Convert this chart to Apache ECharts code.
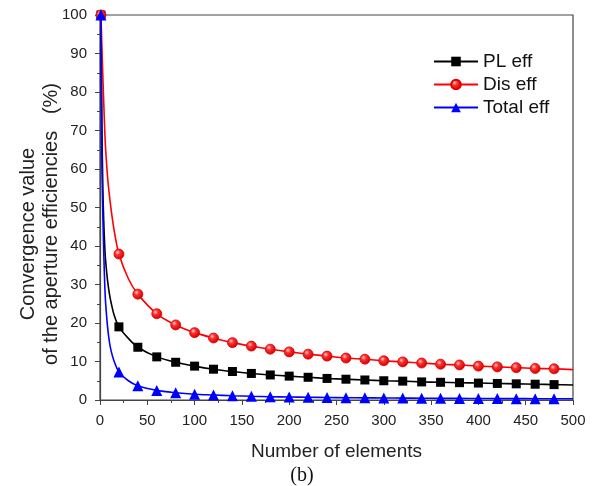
<!DOCTYPE html>
<html>
<head>
<meta charset="utf-8">
<script src="https://cdn.jsdelivr.net/npm/echarts@6/dist/echarts.min.js"></script>
<style>
  html, body { margin: 0; padding: 0; background: #fff; }
  #chart { width: 598px; height: 486px; }
</style>
</head>
<body>
<div id="chart"></div>
<script>
// Number of elements at which the efficiencies were sampled
const elementCounts = [1, 2, 3, 4, 5, 6, 8, 10, 12, 15, 20, 30, 40, 60, 80, 100, 120, 140, 160, 180, 200,
  220, 240, 260, 280, 300, 320, 340, 360, 380, 400, 420, 440, 460, 480, 500];

// Convergence value of each efficiency (%)
const plEff = [100, 72, 55, 46, 40, 36, 31, 27.5, 25, 22, 19.0, 16.0, 13.7, 11.2, 9.8, 8.8, 8.0, 7.4, 6.9, 6.5, 6.2,
  5.9, 5.6, 5.4, 5.2, 5.0, 4.9, 4.7, 4.6, 4.5, 4.4, 4.3, 4.2, 4.1, 4.0, 3.9];
const disEff = [100, 92, 84, 77, 70, 65, 58, 53, 49, 44, 37.9, 31.5, 27.5, 22.4, 19.5, 17.5, 16.1, 14.9, 14.0, 13.2, 12.5,
  11.9, 11.4, 10.9, 10.6, 10.2, 9.9, 9.6, 9.3, 9.1, 8.8, 8.6, 8.4, 8.2, 8.1, 7.9];
const totalEff = [100, 62, 48, 38, 30, 25, 19, 15, 12.5, 10, 7.3, 5.0, 3.7, 2.5, 1.9, 1.5, 1.3, 1.1, 0.97, 0.86, 0.78,
  0.71, 0.65, 0.6, 0.56, 0.52, 0.49, 0.46, 0.43, 0.41, 0.39, 0.37, 0.35, 0.34, 0.32, 0.31];

// Element counts that carry a marker
const markedCounts = [1, 20, 40, 60, 80, 100, 120, 140, 160, 180, 200, 220, 240, 260, 280,
  300, 320, 340, 360, 380, 400, 420, 440, 460, 480];

const seriesNames = ['PL eff', 'Dis eff', 'Total eff'];
const xTicks = { min: 0, max: 500, interval: 50 };
const yTicks = { min: 0, max: 100, interval: 10 };

function buildData(values) {
  return elementCounts.map((n, i) => {
    const item = { value: [n, values[i]] };
    if (markedCounts.indexOf(n) < 0) item.symbol = 'none';
    return item;
  });
}

const FONT = '"Liberation Sans", Arial, sans-serif';
const chart = echarts.init(document.getElementById('chart'), null, { renderer: 'canvas' });

const redBall = new echarts.graphic.RadialGradient(0.38, 0.35, 0.65, [
  { offset: 0, color: '#ffd0d0' },
  { offset: 0.35, color: '#ff3030' },
  { offset: 1, color: '#d00000' }
]);

chart.setOption({
  animation: false,
  backgroundColor: '#ffffff',
  grid: {
    left: 100, right: 25, top: 15, bottom: 86,
    show: true, borderColor: '#444', borderWidth: 1.2, backgroundColor: 'transparent'
  },
  legend: {
    orient: 'vertical',
    left: 428, top: 47,
    itemWidth: 44, itemHeight: 12, itemGap: 4,
    textStyle: { fontFamily: FONT, fontSize: 19, color: '#111' },
    data: seriesNames
  },
  xAxis: {
    type: 'value',
    min: xTicks.min, max: xTicks.max, interval: xTicks.interval,
    name: 'Number of elements',
    nameLocation: 'middle', nameGap: 42,
    nameTextStyle: { fontFamily: FONT, fontSize: 19, color: '#222' },
    axisLine: { show: true, lineStyle: { color: '#444', width: 1.2 } },
    axisTick: { show: true, inside: false, length: 5, lineStyle: { color: '#444' } },
    minorTick: { show: true, splitNumber: 2, length: 3, lineStyle: { color: '#444' } },
    axisLabel: { fontFamily: FONT, fontSize: 15, color: '#222', margin: 13 },
    splitLine: { show: false }
  },
  yAxis: {
    type: 'value',
    min: yTicks.min, max: yTicks.max, interval: yTicks.interval,
    axisLine: { show: true, lineStyle: { color: '#444', width: 1.2 } },
    axisTick: { show: true, inside: false, length: 5, lineStyle: { color: '#444' } },
    minorTick: { show: true, splitNumber: 2, length: 3, lineStyle: { color: '#444' } },
    axisLabel: { fontFamily: FONT, fontSize: 15, color: '#222', margin: 13 },
    splitLine: { show: false }
  },
  graphic: [
    {
      type: 'text', x: 28, y: 234, rotation: Math.PI / 2,
      style: { text: 'Convergence value', fontFamily: FONT, fontSize: 20, fill: '#222',
        align: 'center', verticalAlign: 'middle' }
    },
    {
      type: 'text', x: 51, y: 224, rotation: Math.PI / 2,
      style: { text: 'of the aperture efficiencies   (%)', fontFamily: FONT, fontSize: 20, fill: '#222',
        align: 'center', verticalAlign: 'middle' }
    },
    {
      type: 'text', x: 302, y: 476,
      style: { text: '(b)', fontFamily: '"Liberation Serif", "Times New Roman", serif', fontSize: 20, fill: '#111',
        align: 'center', verticalAlign: 'middle' }
    }
  ],
  series: [
    {
      name: seriesNames[0], type: 'line', smooth: 0.3,
      data: buildData(plEff),
      symbol: 'rect', symbolSize: 9, showAllSymbol: true,
      lineStyle: { color: '#000', width: 1.6 },
      itemStyle: { color: '#000' }
    },
    {
      name: seriesNames[1], type: 'line', smooth: 0.3,
      data: buildData(disEff),
      symbol: 'circle', symbolSize: 10, showAllSymbol: true,
      lineStyle: { color: '#ff0000', width: 1.6 },
      itemStyle: { color: redBall, borderColor: '#e00000', borderWidth: 0.8 }
    },
    {
      name: seriesNames[2], type: 'line', smooth: 0.3,
      data: buildData(totalEff),
      symbol: 'triangle', symbolSize: 11, showAllSymbol: true,
      lineStyle: { color: '#0000ff', width: 1.6 },
      itemStyle: { color: '#0000ff' }
    }
  ]
});
</script>
</body>
</html>
